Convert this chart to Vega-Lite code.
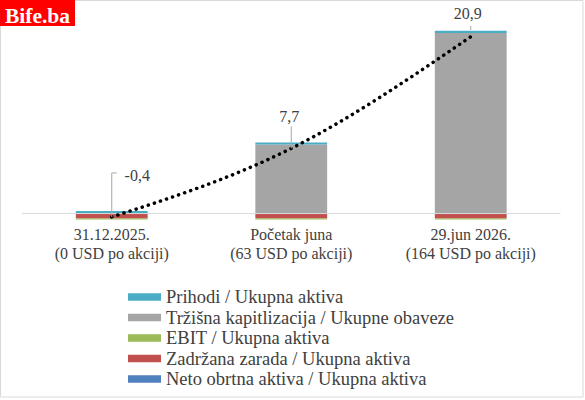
{
  "$schema": "https://vega.github.io/schema/vega-lite/v6.json",
  "width": 538.5,
  "height": 214.9,
  "autosize": {"type": "none"},
  "padding": {"left": 22, "top": 10.5, "right": 24.5, "bottom": 174.6},
  "background": "white",
  "config": {"view": {"stroke": null}, "font": "Liberation Serif"},
  "datasets": {
    "components": [
      {"date": "31.12.2025.|(0 USD po akciji)", "series": "Neto obrtna aktiva  / Ukupna aktiva", "ord": 1, "value": 0},
      {"date": "31.12.2025.|(0 USD po akciji)", "series": "Zadržana zarada / Ukupna aktiva", "ord": 2, "value": -0.58},
      {"date": "31.12.2025.|(0 USD po akciji)", "series": "EBIT / Ukupna aktiva", "ord": 3, "value": -0.12},
      {"date": "31.12.2025.|(0 USD po akciji)", "series": "Tržišna  kapitlizacija / Ukupne obaveze", "ord": 4, "value": 0.05},
      {"date": "31.12.2025.|(0 USD po akciji)", "series": "Prihodi / Ukupna aktiva", "ord": 5, "value": 0.25},
      {"date": "Početak juna|(63 USD po akciji)", "series": "Neto obrtna aktiva  / Ukupna aktiva", "ord": 1, "value": 0},
      {"date": "Početak juna|(63 USD po akciji)", "series": "Zadržana zarada / Ukupna aktiva", "ord": 2, "value": -0.58},
      {"date": "Početak juna|(63 USD po akciji)", "series": "EBIT / Ukupna aktiva", "ord": 3, "value": -0.12},
      {"date": "Početak juna|(63 USD po akciji)", "series": "Tržišna  kapitlizacija / Ukupne obaveze", "ord": 4, "value": 8.15},
      {"date": "Početak juna|(63 USD po akciji)", "series": "Prihodi / Ukupna aktiva", "ord": 5, "value": 0.25},
      {"date": "29.jun 2026.|(164 USD po akciji)", "series": "Neto obrtna aktiva  / Ukupna aktiva", "ord": 1, "value": 0},
      {"date": "29.jun 2026.|(164 USD po akciji)", "series": "Zadržana zarada / Ukupna aktiva", "ord": 2, "value": -0.58},
      {"date": "29.jun 2026.|(164 USD po akciji)", "series": "EBIT / Ukupna aktiva", "ord": 3, "value": -0.12},
      {"date": "29.jun 2026.|(164 USD po akciji)", "series": "Tržišna  kapitlizacija / Ukupne obaveze", "ord": 4, "value": 21.35},
      {"date": "29.jun 2026.|(164 USD po akciji)", "series": "Prihodi / Ukupna aktiva", "ord": 5, "value": 0.25}
    ],
    "totals": [
      {"date": "31.12.2025.|(0 USD po akciji)", "total": -0.4, "label": "-0,4"},
      {"date": "Početak juna|(63 USD po akciji)", "total": 7.7, "label": "7,7"},
      {"date": "29.jun 2026.|(164 USD po akciji)", "total": 20.9, "label": "20,9"}
    ],
    "logo": [{"name": "Bife.ba"}]
  },
  "encoding": {
    "x": {
      "field": "date",
      "type": "nominal",
      "scale": {
        "domain": ["31.12.2025.|(0 USD po akciji)", "Početak juna|(63 USD po akciji)", "29.jun 2026.|(164 USD po akciji)"],
        "paddingInner": 0.6,
        "paddingOuter": 0.3
      },
      "axis": {
        "title": null,
        "domain": false,
        "ticks": false,
        "labelAngle": 0,
        "labelExpr": "split(datum.label, '|')",
        "labelFont": "Liberation Serif",
        "labelFontSize": 16,
        "labelColor": "#404040",
        "labelLineHeight": 19,
        "labelPadding": 1,
        "labelLimit": 0
      }
    }
  },
  "layer": [
    {
      "data": {"name": "logo"},
      "mark": {"type": "rect", "fill": null, "stroke": "#D9D9D9", "strokeWidth": 1},
      "encoding": {"x": {"value": -21.5}, "x2": {"value": 561}, "y": {"value": -10}, "y2": {"value": 386.5}}
    },
    {
      "data": {"name": "components"},
      "mark": {"type": "bar"},
      "encoding": {
        "y": {"field": "value", "type": "quantitative", "stack": "zero", "scale": {"domain": [-1.4, 24], "nice": false}, "axis": null},
        "color": {
          "field": "series",
          "type": "nominal",
          "scale": {
            "domain": ["Prihodi / Ukupna aktiva", "Tržišna  kapitlizacija / Ukupne obaveze", "EBIT / Ukupna aktiva", "Zadržana zarada / Ukupna aktiva", "Neto obrtna aktiva  / Ukupna aktiva"],
            "range": ["#4BACC6", "#A5A5A5", "#9BBB59", "#C0504D", "#4F81BD"]
          },
          "legend": {
            "title": null,
            "orient": "none",
            "legendX": 113.25,
            "legendY": 277.25,
            "symbolType": "M-2,-0.44H2V0.44H-2Z",
            "symbolSize": 272,
            "symbolStrokeWidth": 0,
            "labelFont": "Liberation Serif",
            "labelFontSize": 18.5,
            "labelColor": "#404040",
            "labelOffset": 12.25,
            "rowPadding": 1.5,
            "labelLimit": 0
          }
        },
        "order": {"field": "ord", "type": "quantitative"}
      }
    },
    {
      "data": {"name": "logo"},
      "mark": {"type": "rule", "color": "#D9D9D9", "strokeWidth": 1},
      "encoding": {"x": null, "y": {"datum": 0}}
    },
    {
      "data": {"name": "totals"},
      "mark": {"type": "line", "interpolate": "monotone", "color": "black", "strokeWidth": 3.5, "strokeDash": [0.1, 6.3], "strokeCap": "round"},
      "encoding": {"y": {"field": "total", "type": "quantitative"}}
    },
    {
      "data": {"name": "totals"},
      "transform": [{"filter": "datum.label == '-0,4'"}],
      "layer": [
        {"mark": {"type": "rule", "color": "#A6A6A6", "strokeWidth": 1}, "encoding": {"y": {"field": "total", "type": "quantitative"}, "y2": {"datum": 4.8}}},
        {"mark": {"type": "rule", "color": "#A6A6A6", "strokeWidth": 1, "x2Offset": 5}, "encoding": {"y": {"datum": 4.8}, "x2": {"field": "date"}}},
        {"mark": {"type": "text", "font": "Liberation Serif", "fontSize": 16, "color": "#404040", "align": "center", "baseline": "alphabetic", "dx": 25.5, "dy": -36}, "encoding": {"y": {"field": "total", "type": "quantitative"}, "text": {"field": "label"}}}
      ]
    },
    {
      "data": {"name": "totals"},
      "transform": [{"filter": "datum.label == '7,7'"}],
      "layer": [
        {"mark": {"type": "rule", "color": "#A6A6A6", "strokeWidth": 1}, "encoding": {"y": {"field": "total", "type": "quantitative"}, "y2": {"datum": 10.3}}},
        {"mark": {"type": "text", "font": "Liberation Serif", "fontSize": 16, "color": "#404040", "align": "center", "baseline": "alphabetic", "dx": -2, "dy": -26.5}, "encoding": {"y": {"field": "total", "type": "quantitative"}, "text": {"field": "label"}}}
      ]
    },
    {
      "data": {"name": "totals"},
      "transform": [{"filter": "datum.label == '20,9'"}],
      "layer": [
        {"mark": {"type": "rule", "color": "#A6A6A6", "strokeWidth": 1}, "encoding": {"y": {"datum": 21.7}, "y2": {"datum": 22.17}}},
        {"mark": {"type": "text", "font": "Liberation Serif", "fontSize": 16, "color": "#404040", "align": "center", "baseline": "alphabetic", "dx": -3, "dy": -17.8}, "encoding": {"y": {"field": "total", "type": "quantitative"}, "text": {"field": "label"}}}
      ]
    },
    {
      "data": {"name": "logo"},
      "mark": {"type": "rect", "fill": "red"},
      "encoding": {"x": {"value": -22}, "x2": {"value": 53}, "y": {"value": -10.5}, "y2": {"value": 15.5}}
    },
    {
      "data": {"name": "logo"},
      "mark": {"type": "text", "font": "Liberation Serif", "fontWeight": "bold", "fontSize": 21.5, "color": "white", "align": "center", "baseline": "alphabetic"},
      "encoding": {"x": {"value": 15.5}, "y": {"value": 12.5}, "text": {"field": "name"}}
    }
  ]
}
